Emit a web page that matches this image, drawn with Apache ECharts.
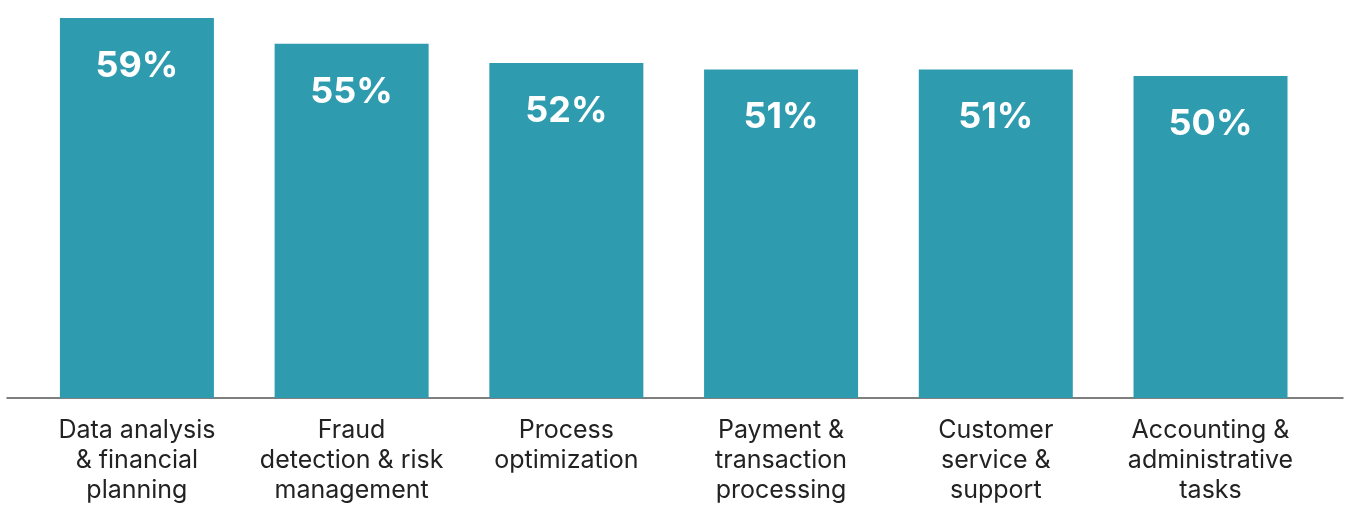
<!DOCTYPE html>
<html>
<head>
<meta charset="utf-8">
<script src="https://cdn.jsdelivr.net/npm/echarts@6/dist/echarts.min.js"></script>
<style>html,body{margin:0;padding:0;background:#fff}#c{width:1345px;height:516px}</style>
</head>
<body>
<div id="c"></div>
<script>
const categories = [
  'Data analysis\n& financial\nplanning',
  'Fraud\ndetection & risk\nmanagement',
  'Process\noptimization',
  'Payment &\ntransaction\nprocessing',
  'Customer\nservice &\nsupport',
  'Accounting &\nadministrative\ntasks'
];
const positions = [0, 1, 2, 3, 4, 5];
const values = [59, 55, 52, 51, 51, 50];

const chart = echarts.init(document.getElementById('c'), null, {renderer: 'canvas'});
chart.setOption({
  animation: false,
  grid: {left: 7, right: 2, top: 11.6, bottom: 118},
  xAxis: {
    type: 'value',
    min: -0.605,
    max: 5.617,
    splitLine: {show: false},
    axisLine: {show: true, onZero: false, lineStyle: {color: '#555', width: 1.5}},
    axisTick: {show: false},
    axisLabel: {
      customValues: positions,
      formatter: v => categories[Math.round(v)] || '',
      color: '#222',
      fontFamily: 'Inter',
      fontSize: 25,
      lineHeight: 30,
      margin: 17,
      align: 'center'
    }
  },
  yAxis: {
    type: 'value', min: 0, max: 60,
    show: false, splitLine: {show: false}
  },
  series: [{
    type: 'bar',
    data: positions.map((p, i) => [p, values[i]]),
    barWidth: 154,
    itemStyle: {color: '#2e9baf'},
    label: {
      show: true,
      position: 'insideTop',
      distance: 30,
      formatter: p => p.value[1] + '%',
      color: '#fff',
      fontFamily: 'Inter',
      fontWeight: 'bold',
      fontSize: 36
    }
  }]
});
</script>
</body>
</html>
